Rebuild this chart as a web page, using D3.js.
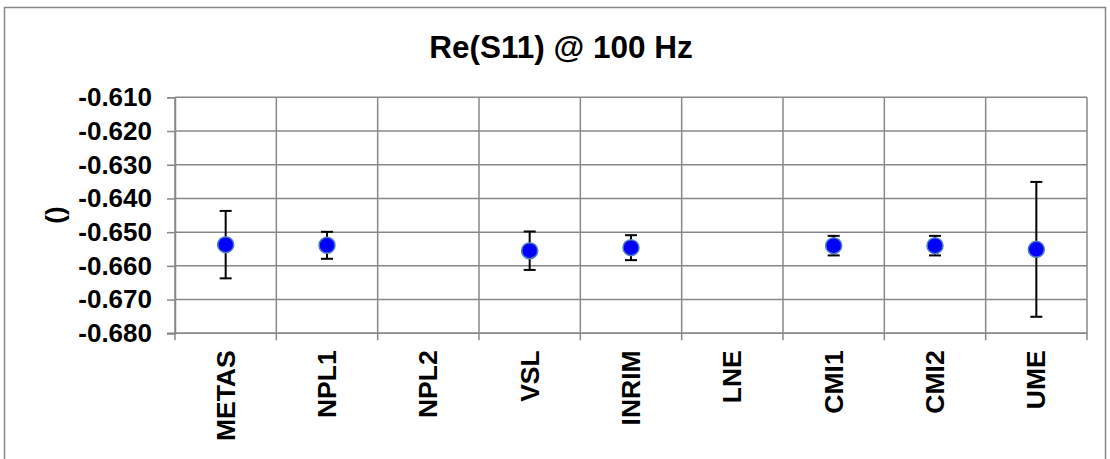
<!DOCTYPE html>
<html>
<head>
<meta charset="utf-8">
<script src="https://cdn.jsdelivr.net/npm/d3@7"></script>
<style>
  html, body { margin: 0; padding: 0; background: #fff; }
  svg { display: block; font-family: "Liberation Sans", Arial, sans-serif; }
</style>
</head>
<body>
<svg id="chart" width="1110" height="459"></svg>
<script>
const categories = ["METAS", "NPL1", "NPL2", "VSL", "INRIM", "LNE", "CMI1", "CMI2", "UME"];
const values = [-0.6537, -0.6539, null, -0.6555, -0.6546, null, -0.6540, -0.6540, -0.6551];
const uncertainties = [0.0100, 0.0040, null, 0.0057, 0.0037, null, 0.0029, 0.0029, 0.0200];
const yTicks = [-0.61, -0.62, -0.63, -0.64, -0.65, -0.66, -0.67, -0.68];
const title = "Re(S11) @ 100 Hz";
const yLabel = "()";

(function () {
const svg = d3.select("#chart");
const pL = 175, pR = 1087, pT = 97.3, pB = 333.3;
const grid = "#888888";

svg.append("rect").attr("x", 4.5).attr("y", 7.5).attr("width", 1101).attr("height", 470)
  .attr("fill", "#fff").attr("stroke", grid).attr("stroke-width", 1.5);

const x = d3.scaleBand().domain(categories).range([pL, pR]).padding(0);
const y = d3.scaleLinear().domain([-0.68, -0.61]).range([pB, pT]);

// horizontal gridlines
svg.append("g").selectAll("line").data(yTicks).join("line")
  .attr("x1", pL).attr("x2", pR).attr("y1", d => y(d)).attr("y2", d => y(d))
  .attr("stroke", grid).attr("stroke-width", 1.5);

// y axis
const fmt = d3.format(".3f");
const yAxis = d3.axisLeft(y).tickValues(yTicks).tickFormat(d => fmt(d).replace("\u2212", "-"))
  .tickSize(8).tickPadding(15);
const gy = svg.append("g").attr("transform", `translate(${pL},0)`).call(yAxis);
gy.select(".domain").attr("stroke", grid).attr("stroke-width", 1.5);
gy.selectAll(".tick line").attr("stroke", grid).attr("stroke-width", 1.5);
gy.selectAll(".tick text").attr("font-size", 26).attr("font-weight", "bold")
  .attr("fill", "#000").attr("font-family", "Liberation Sans, Arial, sans-serif");

// vertical gridlines at category boundaries
const bounds = categories.map(c => x(c)).concat([pR]);
svg.append("g").selectAll("line").data(bounds).join("line")
  .attr("x1", d => d).attr("x2", d => d).attr("y1", pT).attr("y2", pB + 7)
  .attr("stroke", grid).attr("stroke-width", 1.5);

// bottom axis line
svg.append("line").attr("x1", pL - 8).attr("x2", pR).attr("y1", pB).attr("y2", pB)
  .attr("stroke", grid).attr("stroke-width", 1.5);

// category labels
svg.append("g").selectAll("text").data(categories).join("text")
  .attr("transform", d => `translate(${x(d) + x.bandwidth() / 2 + 9},${pB + 17}) rotate(-90)`)
  .attr("text-anchor", "end").attr("font-size", 26.5).attr("font-weight", "bold")
  .text(d => d);

// error bars
const pts = categories.map((c, i) => ({ c, v: values[i], u: uncertainties[i] })).filter(d => d.v !== null);
const eb = svg.append("g").attr("stroke", "#000").attr("stroke-width", 2);
pts.forEach(d => {
  const cx = x(d.c) + x.bandwidth() / 2;
  eb.append("line").attr("x1", cx).attr("x2", cx).attr("y1", y(d.v + d.u)).attr("y2", y(d.v - d.u));
  [d.v + d.u, d.v - d.u].forEach(e => {
    eb.append("line").attr("x1", cx - 6).attr("x2", cx + 6).attr("y1", y(e)).attr("y2", y(e));
  });
});

// markers
svg.append("g").selectAll("circle").data(pts).join("circle")
  .attr("cx", d => x(d.c) + x.bandwidth() / 2).attr("cy", d => y(d.v)).attr("r", 8)
  .attr("fill", "#0000ff").attr("stroke", "#4f81bd").attr("stroke-width", 1.5);

// title
svg.append("text").attr("x", 561).attr("y", 58).attr("text-anchor", "middle")
  .attr("font-size", 31.5).attr("font-weight", "bold").text(title);

// y label
svg.append("text").attr("transform", `translate(${64},${215}) rotate(-90)`)
  .attr("text-anchor", "middle").attr("font-size", 26).attr("font-weight", "bold").text(yLabel);
})();
</script>
</body>
</html>
